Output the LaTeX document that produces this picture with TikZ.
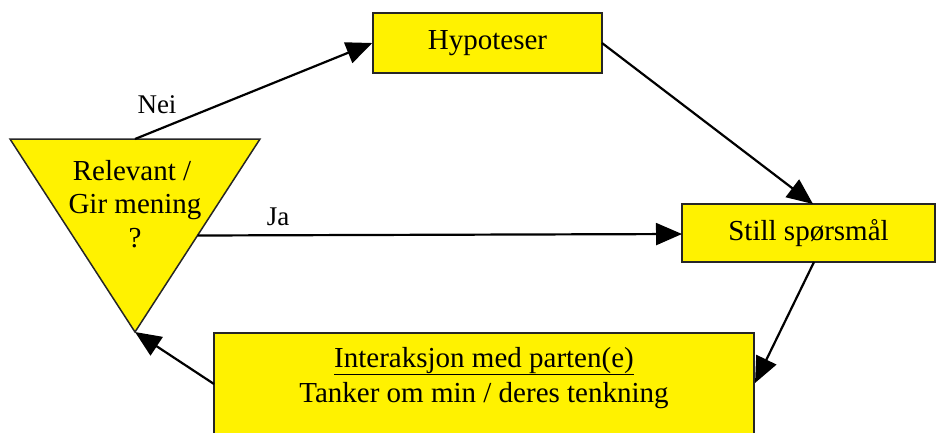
\documentclass[tikz,border=0pt]{standalone}
\usepackage{fontspec}
\setmainfont{Liberation Serif}
\usetikzlibrary{arrows.meta,calc}
\begin{document}
\begin{tikzpicture}[x=1pt,y=-1pt,
  box/.style={draw=black!85,fill=yellow,line width=1.5pt,inner sep=0pt},
  conn/.style={line width=2.2pt,-{Triangle[length=26pt,width=22pt]}},
  lbl/.style={font=\fontsize{27}{32}\selectfont,inner sep=0pt,anchor=base},
  txt/.style={font=\fontsize{29}{34}\selectfont,inner sep=0pt}]
\useasboundingbox (0,0) rectangle (936,432);
\clip (0,0) rectangle (936,432);
% triangle
\coordinate (tl) at (10,139);
\coordinate (tr) at (260,139);
\coordinate (tb) at (135,332);
\draw[box] (tl) -- (tr) -- (tb) -- cycle;
\node[txt,anchor=base] (r1) at (132,180) {Relevant /};
\node[txt,anchor=base] (r2) at (135,213) {Gir mening};
\node[txt,anchor=base] (r3) at (135,247) {?};
% boxes
\node[box,txt,minimum width=229pt,minimum height=60pt] (hyp) at (487.5,43) {Hypoteser};
\node[box,txt,minimum width=253pt,minimum height=58pt] (still) at (808.5,233) {Still spørsmål};
\node[box,minimum width=540pt,minimum height=112pt] (bot) at (484,389) {};
\node[txt,anchor=base] (b1) at (484,367) {\underline{Interaksjon med parten(e)}};
\node[txt,anchor=base] (b2) at (484,402) {Tanker om min / deres tenkning};
% connector end points
\coordinate (ntop) at (135,139);
\coordinate (ja) at ($(tr)!0.5!(tb)$);
\coordinate (hypR) at (602,43);
\coordinate (stillT) at (813,204);
\coordinate (stillB) at (814,262);
\coordinate (botR) at (755,383);
\coordinate (botL) at (214,384);
\coordinate (jaEnd) at (682,234);
% connectors
\draw[conn] (ntop) -- (hyp.west);
\draw[conn] (hypR) -- (stillT);
\draw[conn] (ja) -- (jaEnd);
\draw[conn] (stillB) -- (botR);
\draw[conn] (botL) -- (tb);
% labels
\node[lbl] (nei) at (157,113) {Nei};
\node[lbl] (jalbl) at (278,225) {Ja};
\end{tikzpicture}
\end{document}
